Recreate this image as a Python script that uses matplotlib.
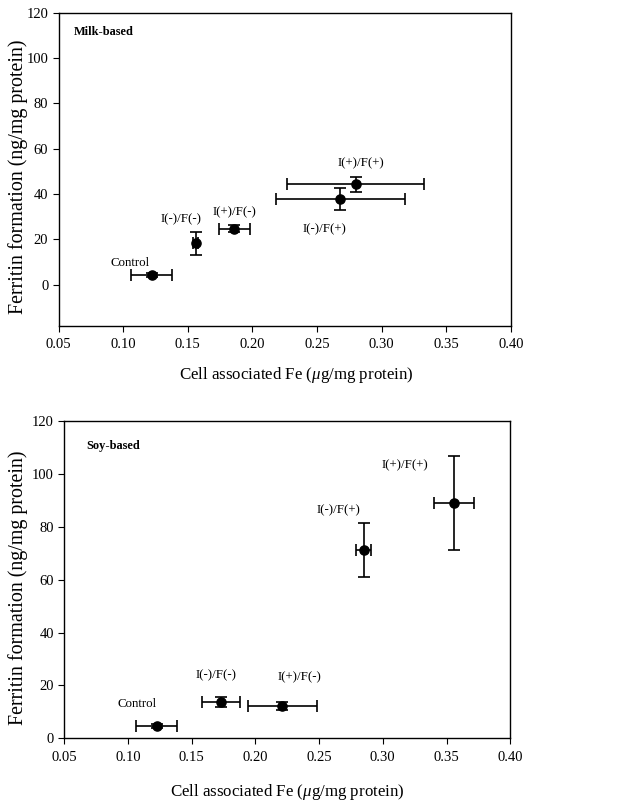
import matplotlib
matplotlib.use("Agg")
import matplotlib.pyplot as plt

plt.rcParams['font.family'] = ['Liberation Serif', 'DejaVu Serif']
plt.rcParams['mathtext.fontset'] = 'custom'
plt.rcParams['mathtext.it'] = 'Liberation Serif:italic'
plt.rcParams['mathtext.rm'] = 'Liberation Serif'

groups = ["Control", "I(-)/F(-)", "I(+)/F(-)", "I(-)/F(+)", "I(+)/F(+)"]

# Milk-based
milk_x = [0.122, 0.156, 0.186, 0.268, 0.280]
milk_xerr = [0.016, 0.002, 0.012, 0.050, 0.053]
milk_y = [4.4, 18.3, 24.8, 38.0, 44.3]
milk_yerr = [0.8, 5.1, 1.6, 4.9, 3.4]
milk_label_x = [0.105, 0.145, 0.186, 0.256, 0.284]
milk_label_y = [9.5, 28.9, 32.1, 24.7, 53.6]

# Soy-based
soy_x = [0.1225, 0.173, 0.221, 0.285, 0.356]
soy_xerr = [0.016, 0.015, 0.027, 0.006, 0.0158]
soy_y = [4.7, 13.9, 12.1, 71.3, 89.0]
soy_yerr = [0.9, 1.9, 1.5, 10.3, 17.6]
soy_label_x = [0.107, 0.169, 0.235, 0.265, 0.317]
soy_label_y = [13.0, 23.8, 22.9, 86.4, 103.1]

xticks = [0.05, 0.10, 0.15, 0.20, 0.25, 0.30, 0.35, 0.40]
yticks = [0, 20, 40, 60, 80, 100, 120]

fig = plt.figure(figsize=(6.17, 8.02), dpi=100)
ax1 = fig.add_axes([0.095, 0.594, 0.733, 0.390])
ax2 = fig.add_axes([0.104, 0.0794, 0.723, 0.3956])

def draw(ax, xs, xe, ys, ye, lx, ly, title, ylim, title_xy, ylab_xy, xlab_xy):
    ax.errorbar(xs, ys, xerr=xe, yerr=ye, fmt='o', color='black',
                markersize=6.6, capsize=4, elinewidth=1.2, capthick=1.2)
    for g, x, y in zip(groups, lx, ly):
        ax.text(x, y, g, ha='center', va='center', fontsize=9.3)
    ax.text(title_xy[0], title_xy[1], title, ha='left', va='center',
            fontsize=8.9, fontweight='bold')
    ax.set_xlim(0.05, 0.40)
    ax.set_ylim(*ylim)
    ax.set_xticks(xticks)
    ax.set_xticklabels([f"{t:.2f}" for t in xticks])
    ax.set_yticks(yticks)
    ax.tick_params(direction='out', length=4, labelsize=10.5)
    ax.tick_params(axis='x', pad=5)
    ax.tick_params(axis='y', pad=3.4)
    ax.set_xlabel(r"Cell associated Fe ($\mathit{\mu}$g/mg protein)", fontsize=12.2)
    ax.set_ylabel("Ferritin formation (ng/mg protein)", fontsize=14.4)
    ax.yaxis.set_label_coords(*ylab_xy)
    ax.xaxis.set_label_coords(*xlab_xy)
    for s in ax.spines.values():
        s.set_linewidth(1.0)

draw(ax1, milk_x, milk_xerr, milk_y, milk_yerr, milk_label_x, milk_label_y,
     "Milk-based", (-18, 120), (0.062, 111.6), (-0.068, 0.475), (0.525, -0.126))
draw(ax2, soy_x, soy_xerr, soy_y, soy_yerr, soy_label_x, soy_label_y,
     "Soy-based", (0, 120), (0.067, 110.5), (-0.082, 0.475), (0.501, -0.138))

fig.savefig("out.png", dpi=100)
